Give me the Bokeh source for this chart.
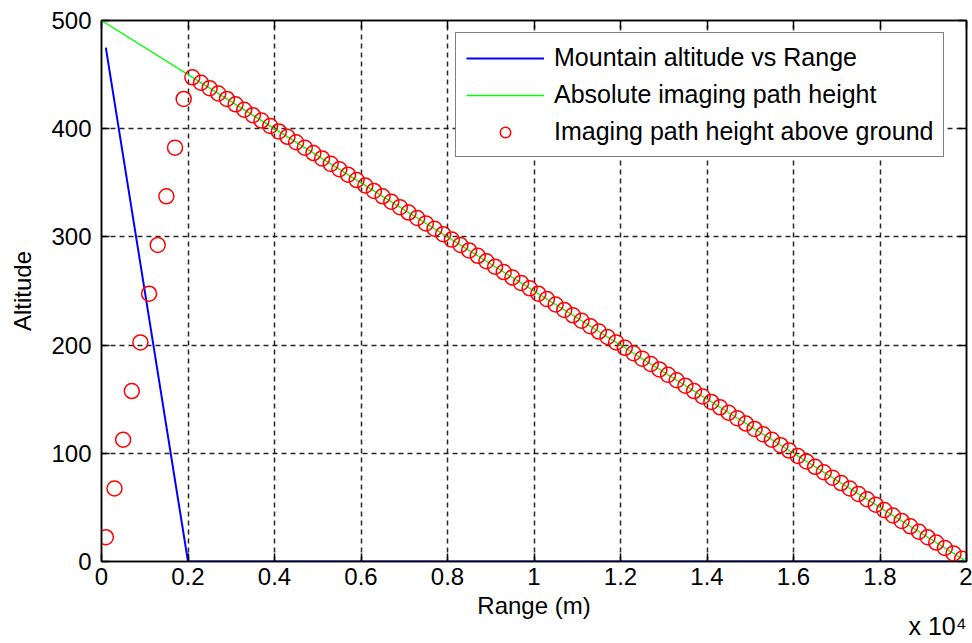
from bokeh.plotting import figure
from bokeh.models import (FixedTicker, LinearAxis, Range1d, Legend, LegendItem, Title,
                          CustomLabelingPolicy)
from bokeh.embed import file_html
from bokeh.resources import INLINE

# ---- data ----
mountain_x = [100, 2000, 20000]
mountain_y = [475, 0, 0]

path_x = [0, 20000]
path_y = [500, 0]

above_x = [100, 300, 500, 700, 900, 1100, 1300, 1500, 1700, 1900,
           2100, 2300, 2500, 2700, 2900, 3100, 3300, 3500, 3700, 3900,
           4100, 4300, 4500, 4700, 4900, 5100, 5300, 5500, 5700, 5900,
           6100, 6300, 6500, 6700, 6900, 7100, 7300, 7500, 7700, 7900,
           8100, 8300, 8500, 8700, 8900, 9100, 9300, 9500, 9700, 9900,
           10100, 10300, 10500, 10700, 10900, 11100, 11300, 11500, 11700, 11900,
           12100, 12300, 12500, 12700, 12900, 13100, 13300, 13500, 13700, 13900,
           14100, 14300, 14500, 14700, 14900, 15100, 15300, 15500, 15700, 15900,
           16100, 16300, 16500, 16700, 16900, 17100, 17300, 17500, 17700, 17900,
           18100, 18300, 18500, 18700, 18900, 19100, 19300, 19500, 19700, 19900]
above_y = [22.5, 67.5, 112.5, 157.5, 202.5, 247.5, 292.5, 337.5, 382.5, 427.5,
           447.5, 442.5, 437.5, 432.5, 427.5, 422.5, 417.5, 412.5, 407.5, 402.5,
           397.5, 392.5, 387.5, 382.5, 377.5, 372.5, 367.5, 362.5, 357.5, 352.5,
           347.5, 342.5, 337.5, 332.5, 327.5, 322.5, 317.5, 312.5, 307.5, 302.5,
           297.5, 292.5, 287.5, 282.5, 277.5, 272.5, 267.5, 262.5, 257.5, 252.5,
           247.5, 242.5, 237.5, 232.5, 227.5, 222.5, 217.5, 212.5, 207.5, 202.5,
           197.5, 192.5, 187.5, 182.5, 177.5, 172.5, 167.5, 162.5, 157.5, 152.5,
           147.5, 142.5, 137.5, 132.5, 127.5, 122.5, 117.5, 112.5, 107.5, 102.5,
           97.5, 92.5, 87.5, 82.5, 77.5, 72.5, 67.5, 62.5, 57.5, 52.5,
           47.5, 42.5, 37.5, 32.5, 27.5, 22.5, 17.5, 12.5, 7.5, 2.5]

x_ticks = [0, 2000, 4000, 6000, 8000, 10000, 12000, 14000, 16000, 18000, 20000]
x_tick_labels = ["0", "0.2", "0.4", "0.6", "0.8", "1", "1.2", "1.4", "1.6", "1.8", "2"]
y_ticks = [0, 100, 200, 300, 400, 500]
x_scale_note = "x 10⁴"

labels = ["Mountain altitude vs Range", "Absolute imaging path height",
          "Imaging path height above ground"]

FONT = "Liberation Sans"
FS = "24px"

p = figure(width=972, height=643, x_range=Range1d(0, 20000), y_range=Range1d(0, 500),
           output_backend="svg", toolbar_location=None,
           min_border_left=101, min_border_right=4, min_border_top=20, min_border_bottom=82)
p.background_fill_color = "white"
p.border_fill_color = "white"
p.outline_line_color = "black"
p.outline_line_width = 1.5

hide_all = CustomLabelingPolicy(code="""
const all = [...indices]
for (const i of all) indices.unset(i)
return indices
""")

def style_axis(ax, labelled):
    ax.axis_line_color = "black"
    ax.axis_line_width = 1.5
    ax.major_tick_in = 8
    ax.major_tick_out = 0
    ax.major_tick_line_color = "black"
    ax.major_tick_line_width = 1.5
    ax.minor_tick_line_color = None
    ax.major_label_text_font = FONT
    ax.major_label_text_color = "black"
    ax.axis_label_text_font = FONT
    ax.axis_label_text_font_style = "normal"
    ax.axis_label_text_color = "black"
    if labelled:
        ax.major_label_text_font_size = FS
        ax.axis_label_text_font_size = FS
    else:
        ax.major_label_text_font_size = "2px"
        ax.major_label_standoff = 0
        ax.major_label_policy = hide_all
        ax.axis_label = None

xa = p.xaxis[0]
xa.ticker = FixedTicker(ticks=x_ticks)
xa.major_label_overrides = {t: l for t, l in zip(x_ticks, x_tick_labels)}
xa.axis_label = "Range (m)"
xa.major_label_standoff = 6
xa.axis_label_standoff = 4
style_axis(xa, True)

ya = p.yaxis[0]
ya.ticker = FixedTicker(ticks=y_ticks)
ya.axis_label = "Altitude"
ya.major_label_standoff = 10
ya.axis_label_standoff = 12
style_axis(ya, True)

top_ax = LinearAxis(ticker=FixedTicker(ticks=x_ticks))
style_axis(top_ax, False)
p.add_layout(top_ax, "above")
right_ax = LinearAxis(ticker=FixedTicker(ticks=y_ticks))
style_axis(right_ax, False)
p.add_layout(right_ax, "right")

for g in (p.xgrid[0], p.ygrid[0]):
    g.grid_line_color = "black"
    g.grid_line_dash = "5 4"
    g.grid_line_width = 1.5
    g.grid_line_alpha = 0.85
p.xgrid[0].ticker = FixedTicker(ticks=x_ticks)
p.ygrid[0].ticker = FixedTicker(ticks=y_ticks)

r1 = p.line(mountain_x, mountain_y, line_color="#0000ff", line_width=2)
r2 = p.line(path_x, path_y, line_color="#00ff00", line_width=1.3)
r3 = p.scatter(above_x, above_y, marker="circle", size=15, fill_color=None,
               line_color="#ff0000", line_width=1.5)

legend = Legend(items=[LegendItem(label=labels[0], renderers=[r1]),
                       LegendItem(label=labels[1], renderers=[r2]),
                       LegendItem(label=labels[2], renderers=[r3])],
                location=(354, 404))
legend.margin = 0
legend.padding = 10
legend.spacing = 8
legend.glyph_width = 78
legend.glyph_height = 26
legend.label_height = 26
legend.label_standoff = 10
legend.label_text_font = FONT
legend.label_text_font_size = "25px"
legend.label_text_color = "black"
legend.border_line_color = "black"
legend.border_line_width = 1.5
legend.background_fill_color = "white"
legend.background_fill_alpha = 1
p.add_layout(legend)

note = Title(text=x_scale_note, align="right", vertical_align="middle", standoff=-22,
             text_font=FONT, text_font_size="25px", text_font_style="normal",
             text_color="black")
p.add_layout(note, "below")

open("out.html", "w").write(file_html(p, INLINE))
